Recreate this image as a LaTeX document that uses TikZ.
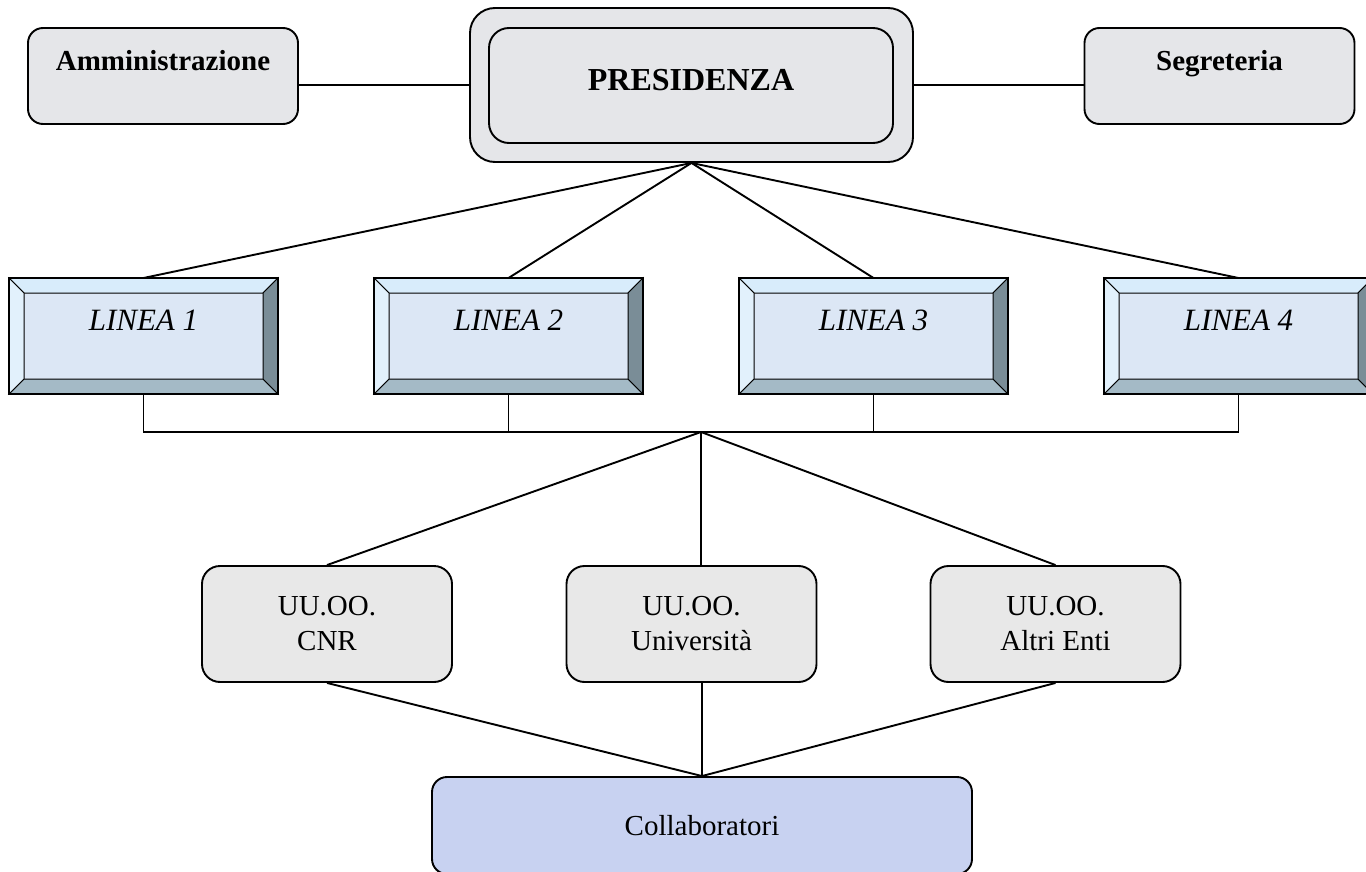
\documentclass[tikz,border=0pt]{standalone}
\usepackage{fontspec}
\setmainfont{Liberation Serif}
\usepackage{tikz}

\definecolor{marmo}{HTML}{E5E6E9}
\definecolor{grana}{HTML}{E8E8E8}
\definecolor{faccia}{HTML}{DCE7F5}
\definecolor{bevtop}{HTML}{D8ECFB}
\definecolor{bevleft}{HTML}{E2F1FC}
\definecolor{bevright}{HTML}{7A8D97}
\definecolor{bevbot}{HTML}{A4BAC6}
\definecolor{collab}{HTML}{C8D2F1}

\newcommand{\tsize}{\fontsize{29}{35}\selectfont}

\begin{document}
\begin{tikzpicture}[x=1pt,y=-1pt,line width=1.9pt]
        \useasboundingbox (0,0) rectangle (1366,872);

        \begin{scope}[every node/.style={draw, rounded corners=15pt, fill=marmo, minimum width=270pt, minimum height=96pt, font=\tsize\bfseries, text height=20pt, text depth=30pt}]
          \node (amm)  at (163,76)    {Amministrazione};
          \node (seg)  at (1219.5,76) {Segreteria};
        \end{scope}

        \node[draw, rounded corners=25pt, fill=marmo, minimum width=443pt, minimum height=154pt] (pres) at (691.5,85) {};
        \node[draw, rounded corners=20pt, minimum width=404pt, minimum height=115pt, font=\fontsize{32}{38}\selectfont\bfseries, text height=21pt, text depth=11pt] (presin) at (691,85.5) {PRESIDENZA};

        \begin{scope}[every node/.style={draw, fill=faccia, outer sep=0pt, minimum width=269pt, minimum height=116pt, font=\fontsize{31}{37}\selectfont\itshape, text height=21pt, text depth=33pt}]
          \node (l1)  at (143.5,336)  {LINEA 1};
          \node (l2)  at (508.5,336)  {LINEA 2};
          \node (l3)  at (873.5,336)  {LINEA 3};
          \node (l4)  at (1238.5,336) {LINEA 4};
        \end{scope}

        % cornici a smusso
        \foreach \n in {l1,l2,l3,l4} {
          \filldraw[fill=bevtop, line width=1pt] (\n.north west) -- (\n.north east) -- ([shift={(-15pt,-15pt)}]\n.north east) -- ([shift={(15pt,-15pt)}]\n.north west) -- cycle;
          \filldraw[fill=bevbot, line width=1pt] (\n.south west) -- (\n.south east) -- ([shift={(-15pt,15pt)}]\n.south east) -- ([shift={(15pt,15pt)}]\n.south west) -- cycle;
          \filldraw[fill=bevleft, line width=1pt] (\n.north west) -- ([shift={(15pt,-15pt)}]\n.north west) -- ([shift={(15pt,15pt)}]\n.south west) -- (\n.south west) -- cycle;
          \filldraw[fill=bevright, line width=1pt] (\n.north east) -- ([shift={(-15pt,-15pt)}]\n.north east) -- ([shift={(-15pt,15pt)}]\n.south east) -- (\n.south east) -- cycle;
          \draw (\n.north west) rectangle (\n.south east);
        }

        \begin{scope}[every node/.style={draw, rounded corners=18pt, fill=grana, minimum width=250pt, minimum height=116pt, font=\tsize, align=center}]
          \node (cnr)  at (327,624)    {UU.OO.\\CNR};
          \node (uni)  at (691.5,624)  {UU.OO.\\Università};
          \node (alt)  at (1055.5,624) {UU.OO.\\Altri Enti};
        \end{scope}

        \node[draw, rounded corners=15pt, fill=collab, minimum width=540pt, minimum height=97pt, font=\tsize, text height=20pt, text depth=0pt] (col) at (702,825.5) {Collaboratori};

        \coordinate (bus) at (701,432);

        \draw (pres.west) -- (pres.west -| amm.east);
        \draw (pres.east) -- (pres.east -| seg.west);
        \foreach \n in {l1,l2,l3,l4}
          \draw (pres.south) -- (\n.north);

        \draw (l1.south) -- (l1.south |- bus) -- (l4.south |- bus) -- (l4.south);
        \draw (l2.south) -- (l2.south |- bus);
        \draw (l3.south) -- (l3.south |- bus);

        \draw (bus) -- (cnr.north);
        \draw (bus) -- (bus |- uni.north);
        \draw (bus) -- (alt.north);

        \draw (cnr.south) -- (col.north);
        \draw (col.north) -- (col.north |- uni.south);
        \draw (alt.south) -- (col.north);

      \end{tikzpicture}
\end{document}
